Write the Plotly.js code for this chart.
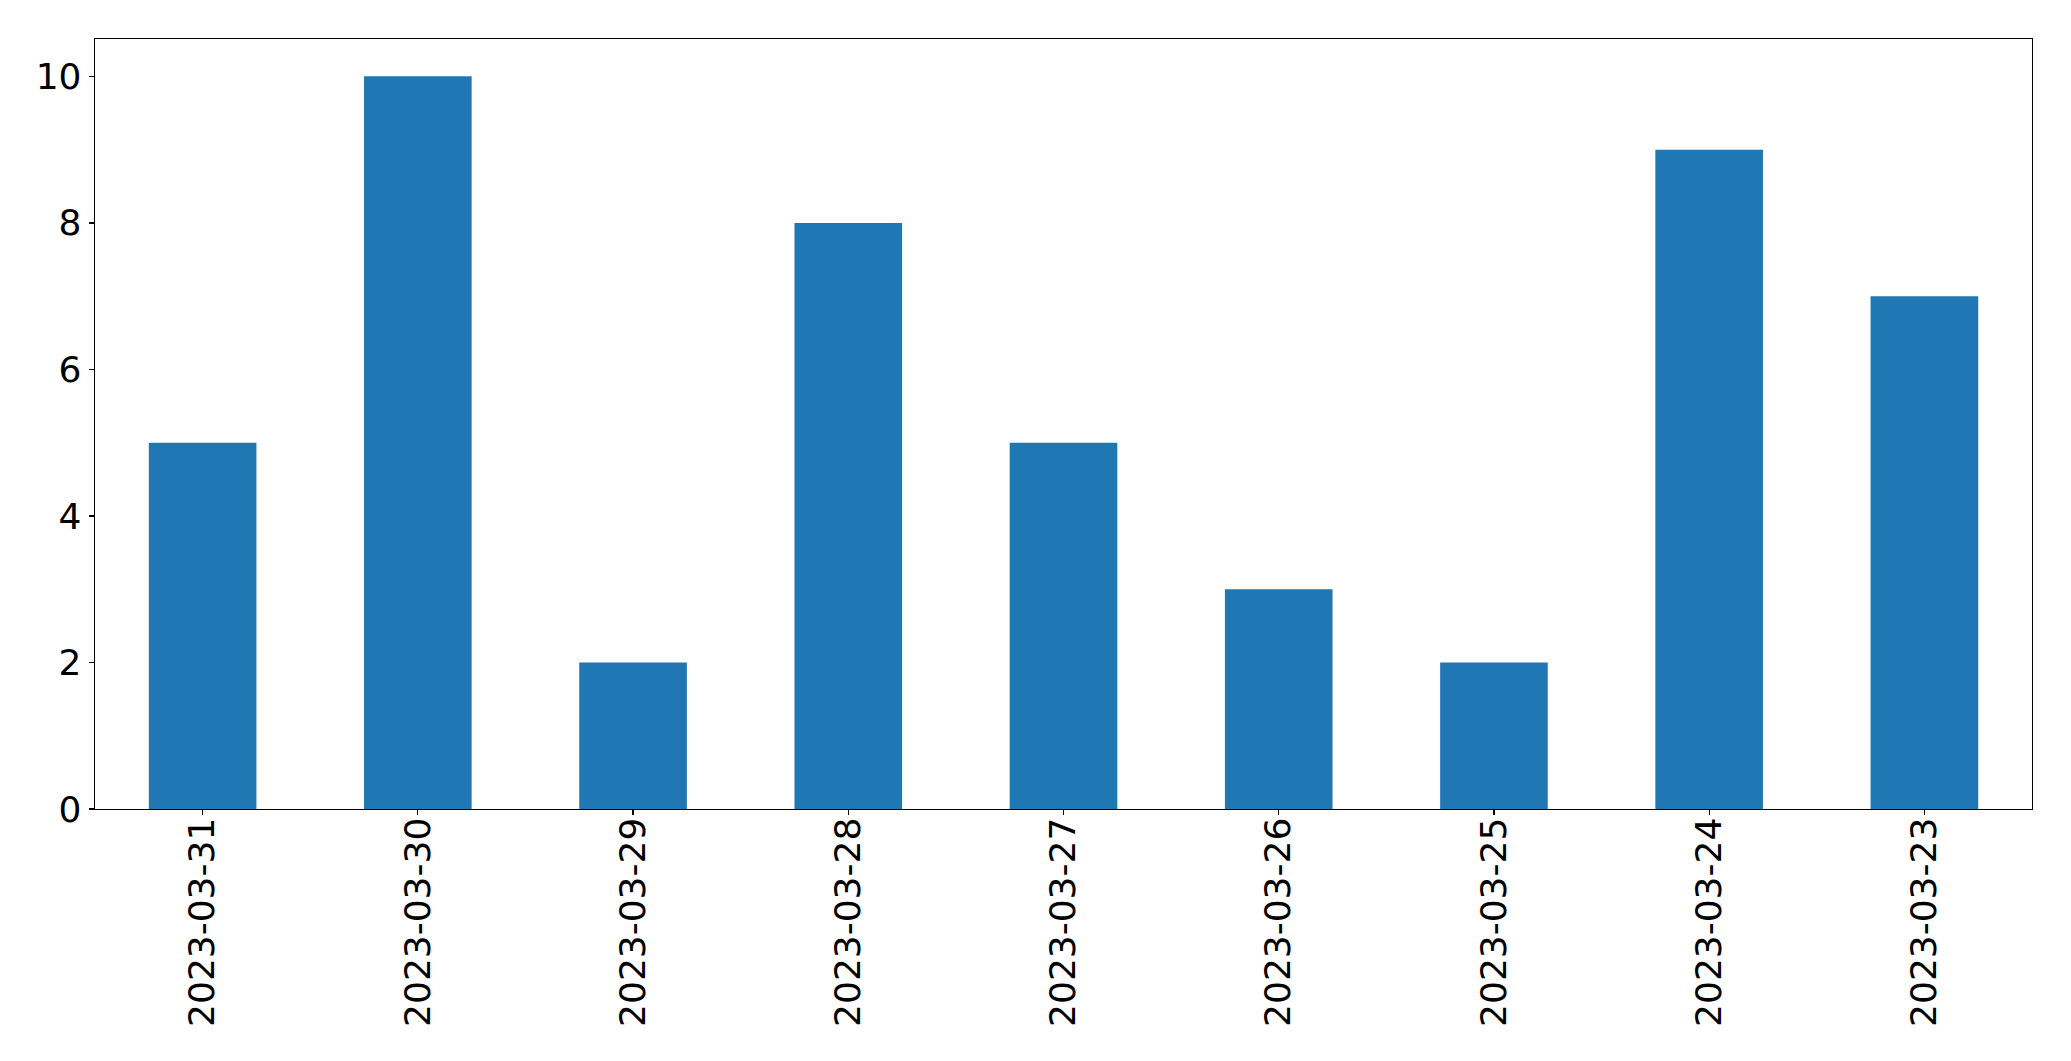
<!DOCTYPE html>
<html>
<head>
<meta charset="utf-8">
<script src="https://cdn.plot.ly/plotly-3.0.1.min.js"></script>
<style>html,body{margin:0;padding:0;background:#fff;}#chart{width:2071px;height:1061px;}</style>
</head>
<body>
<div id="chart"></div>
<script>
const dates = ["2023-03-31","2023-03-30","2023-03-29","2023-03-28","2023-03-27","2023-03-26","2023-03-25","2023-03-24","2023-03-23"];
const counts = [5, 10, 2, 8, 5, 3, 2, 9, 7];
const yTicks = [0, 2, 4, 6, 8, 10];

const trace = {
  type: 'bar',
  x: dates,
  y: counts,
  width: 0.5,
  marker: {color: '#1f77b4', line: {width: 0}},
  hoverinfo: 'x+y'
};

const font = {family: 'DejaVu Sans, sans-serif', size: 36, color: '#000'};

const layout = {
  width: 2071,
  height: 1061,
  margin: {l: 94.5, r: 39.3, t: 39.3, b: 252, pad: 0},
  paper_bgcolor: '#fff',
  plot_bgcolor: '#fff',
  showlegend: false,
  bargap: 0.5,
  font: font,
  xaxis: {
    type: 'category',
    range: [-0.5, 8.5],
    tickangle: -90,
    ticks: 'outside',
    ticklen: 5,
    tickwidth: 1.3,
    tickcolor: '#000',
    ticklabelposition: 'outside',
    ticklabelstandoff: -12,
    showline: true,
    linecolor: '#000',
    linewidth: 1.3,
    mirror: true,
    showgrid: false,
    zeroline: false,
    tickfont: font,
    automargin: false
  },
  yaxis: {
    range: [0, 10.51],
    tickvals: yTicks,
    ticktext: yTicks.map(String),
    ticks: 'outside',
    ticklen: 5,
    tickwidth: 1.3,
    tickcolor: '#000',
    showline: true,
    linecolor: '#000',
    linewidth: 1.3,
    mirror: true,
    showgrid: false,
    zeroline: false,
    tickfont: font,
    automargin: false
  }
};

Plotly.newPlot('chart', [trace], layout, {displayModeBar: false, staticPlot: true});
</script>
</body>
</html>
